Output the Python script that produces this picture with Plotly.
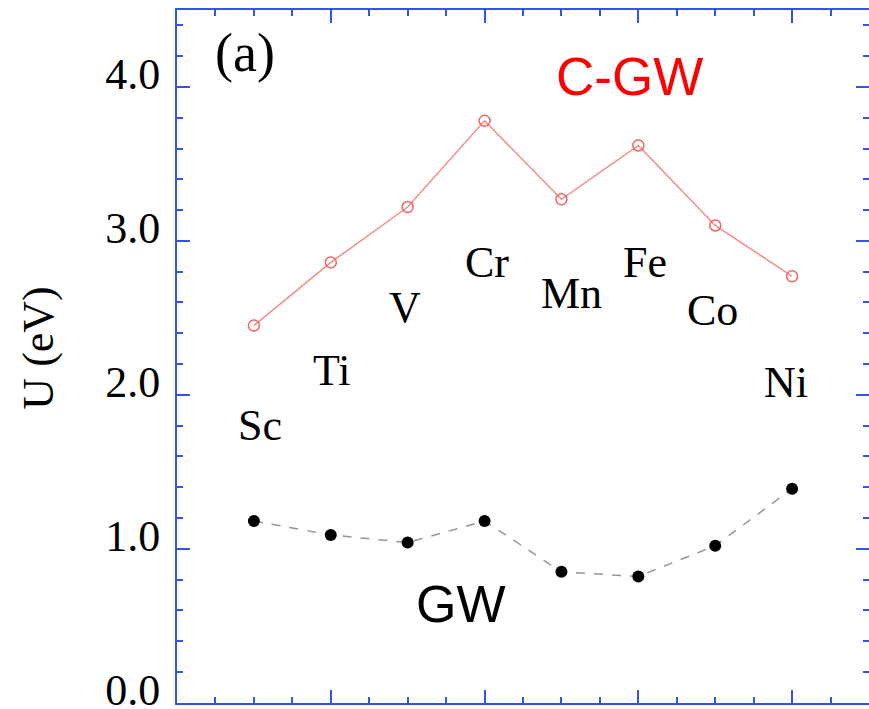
import plotly.graph_objects as go

elements = ["Sc", "Ti", "V", "Cr", "Mn", "Fe", "Co", "Ni"]
x_pos = [1, 2, 3, 4, 5, 6, 7, 8]
u_cgw = [2.45, 2.86, 3.22, 3.78, 3.27, 3.62, 3.10, 2.77]
u_gw = [1.18, 1.09, 1.04, 1.18, 0.85, 0.82, 1.02, 1.39]
# element label positions (data coords)
label_x = [1.08, 2.01, 2.97, 4.03, 5.13, 6.09, 6.97, 7.92]
label_y = [1.80, 2.16, 2.57, 2.86, 2.66, 2.86, 2.55, 2.08]
y_ticks = [0, 1, 2, 3, 4]
y_tick_text = ["0.0", "1.0", "2.0", "3.0", "4.0"]

BLUE = "#3355E6"
SERIF = "Liberation Serif, Times New Roman, serif"
SANS = "Liberation Sans, Arial, sans-serif"

fig = go.Figure()
fig.add_trace(go.Scatter(
    x=x_pos, y=u_cgw, mode="lines+markers",
    line=dict(color="rgb(244,140,140)", width=1.5),
    marker=dict(symbol="circle-open", size=11, color="rgb(240,100,100)", line=dict(width=1.5)),
    showlegend=False))
fig.add_trace(go.Scatter(
    x=x_pos, y=u_gw, mode="lines+markers",
    line=dict(color="rgb(150,150,150)", width=1.5, dash="dash"),
    marker=dict(symbol="circle", size=12, color="black"),
    showlegend=False))

for el, lx, ly in zip(elements, label_x, label_y):
    fig.add_annotation(x=lx, y=ly, text=el, showarrow=False,
                       font=dict(family=SERIF, size=44, color="black"),
                       xanchor="center", yanchor="middle")

fig.add_annotation(x=0.89, y=4.22, text="(a)", showarrow=False,
                   font=dict(family=SERIF, size=54, color="black"),
                   xanchor="center", yanchor="middle")
fig.add_annotation(x=5.88, y=4.07, text="C-GW", showarrow=False,
                   font=dict(family=SANS, size=53, color="red"),
                   xanchor="center", yanchor="middle")
fig.add_annotation(x=3.69, y=0.64, text="GW", showarrow=False,
                   font=dict(family=SANS, size=52, color="black"),
                   xanchor="center", yanchor="middle")
fig.add_annotation(xref="paper", yref="y", x=0, y=2.3, xshift=-138,
                   text="U (eV)", textangle=-90, showarrow=False,
                   font=dict(family=SERIF, size=44, color="black"),
                   xanchor="center", yanchor="middle")

fig.update_xaxes(
    range=[0, 9], tick0=0, dtick=2, ticks="inside", ticklen=13, tickwidth=2,
    tickcolor=BLUE, showticklabels=False, showgrid=False, zeroline=False,
    showline=True, linecolor=BLUE, linewidth=2, mirror="allticks",
    automargin=False,
    minor=dict(dtick=0.5, tick0=0, ticks="inside", ticklen=6, tickwidth=2,
               tickcolor=BLUE, showgrid=False))
fig.update_yaxes(
    range=[-0.002, 4.5], tickvals=y_ticks, ticktext=y_tick_text,
    ticks="inside", ticklen=13, tickwidth=2, tickcolor=BLUE,
    tickfont=dict(family=SERIF, size=44, color="black"),
    ticklabelshift=-13, ticklabelstandoff=6, ticklabeloverflow="allow",
    automargin=False,
    showgrid=False, zeroline=False,
    showline=True, linecolor=BLUE, linewidth=2, mirror="allticks",
    minor=dict(dtick=0.2, tick0=0, ticks="inside", ticklen=6, tickwidth=2,
               tickcolor=BLUE, showgrid=False))

fig.update_layout(
    width=869, height=709,
    margin=dict(l=177, r=0, t=10, b=6, autoexpand=False),
    paper_bgcolor="white", plot_bgcolor="white")

fig.write_html("out.html")
